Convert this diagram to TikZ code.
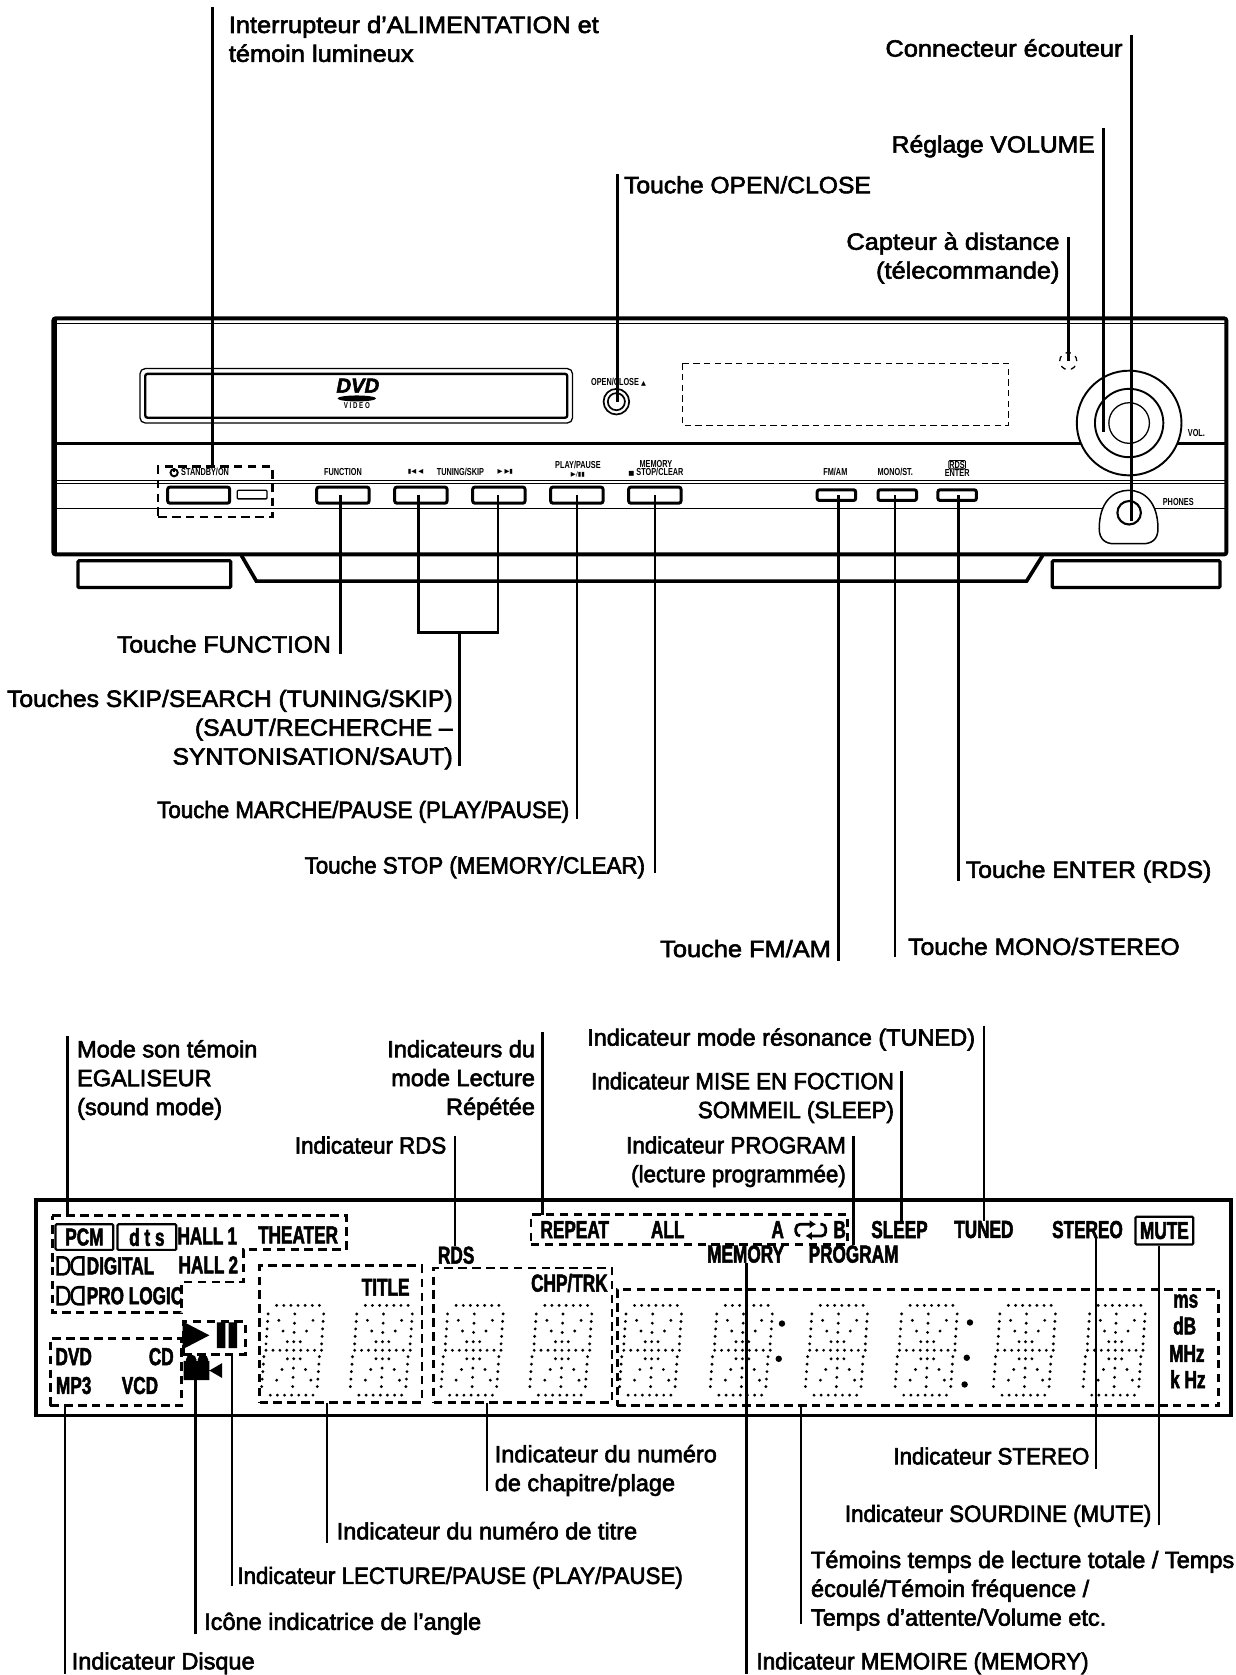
\documentclass[tikz,border=0pt]{standalone}
\usepackage{fontspec}
\usetikzlibrary{arrows.meta,positioning,calc}
\newfontfamily\labelfam[FakeBold=2.6]{Liberation Sans}
\newfontfamily\labelfamW[FakeBold=2.6,FakeStretch=1.08]{Liberation Sans}
\newfontfamily\labelfamM[FakeBold=2.6,FakeStretch=1.05]{Liberation Sans}
\newfontfamily\labelfamN[FakeBold=2.6,FakeStretch=0.95]{Liberation Sans}
\newfontfamily\lcdfam[FakeStretch=0.70,FakeBold=2.0,UprightFont={* Bold}]{Liberation Sans}
\newfontfamily\tagfam[FakeStretch=0.72,UprightFont={* Bold}]{Liberation Sans}
\newfontfamily\symfam{DejaVu Sans}
\newcommand{\lblfont}{\labelfam\fontsize{22}{27}\selectfont}
\newcommand{\lblfontW}{\labelfamW\fontsize{22}{27}\selectfont}
\newcommand{\lblfontM}{\labelfamM\fontsize{22}{27}\selectfont}
\newcommand{\lblfontN}{\labelfamN\fontsize{22}{27}\selectfont}
\newcommand{\lcdfont}{\lcdfam\fontsize{23}{27}\selectfont}
\newcommand{\tagfont}{\tagfam\fontsize{9.5}{7.5}\selectfont}
\tikzset{
  lbll/.style={anchor=west, align=left, font=\lblfont, inner sep=0pt},
  lblr/.style={anchor=east, align=right, font=\lblfont, inner sep=0pt},
  wide/.style={font=\lblfontW},
  mid/.style={font=\lblfontM},
  narrow/.style={font=\lblfontN},
  lcd/.style={anchor=center, font=\lcdfont, inner sep=0pt},
  tag/.style={anchor=center, align=center, font=\tagfont, inner sep=0pt},
  leader/.style={line width=2.4pt, draw=black},
  dashbox/.style={rectangle, draw=black, line width=2.6pt, dash pattern=on 8pt off 5pt, inner sep=0pt, outer sep=0pt},
  btn/.style={rectangle, rounded corners=2pt, draw=black, fill=white, line width=2.8pt, minimum width=49pt, minimum height=15pt, inner sep=0pt, outer sep=0pt},
  btnsm/.style={btn, minimum width=36pt, minimum height=10pt},
  wall/.style={line width=#1, draw=black},
  seg/.pic={
    \foreach \ax/\ay/\bx/\by/\nn in {-16/-42/24/-42/6, -24/-34/-26/-6/4, 28/-34/26/-6/4, -26/0/26/0/8,
        -28/6/-30/34/4, 24/6/22/34/4, -22/42/18/42/6, 1/-34/0/-8/3, 0/8/-1/34/3,
        -14/-28/-6/-8/2, 18/-28/6/-8/2, -6/8/-16/28/2, 6/8/16/28/2}
      \foreach \ii in {0,...,\nn}
        \fill ($(\ax,\ay)!\ii/\nn!(\bx,\by)$) circle (1.5pt);
  },
}
\begin{document}
\begin{tikzpicture}[x=1pt,y=-1pt,node distance=24pt]
  \useasboundingbox (0,0) rectangle (1157,1568);
  \draw[wall=3.6pt,rounded corners=2pt] (50,298) rectangle (1148,519);
  \draw[wall=5pt] (51,298)--(51,519);
  \draw[wall=1pt] (50,303)--(1148,303);
  \draw[wall=2.6pt] (50,415)--(1148,415);
  \draw[wall=1pt] (50,450)--(1148,450) (50,453)--(1148,453);
  \draw[wall=1.6pt] (50,476)--(1148,476);
  \draw[wall=1.2pt,rounded corners=5pt] (131,345) rectangle (536,396);
  \draw[wall=2.2pt,rounded corners=2pt] (136,350) rectangle (531,391);
  \node[font=\labelfam\bfseries\itshape\fontsize{19}{19}\selectfont, inner sep=0pt] (dvd) at (335,361) {DVD};
  \fill (334,373) ellipse (18pt and 2.8pt);
  \node[font=\tagfam\fontsize{8}{8}\selectfont, inner sep=0pt] (video) at (334,380) {V I D E O};
  \node[tag] (openTag) at (579,358) {OPEN/CLOSE {\symfam\fontsize{6}{6}\selectfont ▲}};
  \draw[wall=1.6pt] (577,376) circle (12pt);
  \draw[wall=1.6pt] (577,376) circle (8pt);
  \draw[wall=1.2pt,dash pattern=on 6pt off 4pt] (639,340) rectangle (944,398);
  \draw[wall=1.2pt,dash pattern=on 5pt off 5pt] (1000,338) circle (8pt);
  \draw[wall=1.8pt,fill=white] (1057,396) circle (49pt);
  \draw[wall=1.8pt] (1057,396) circle (32pt);
  \draw[wall=1.2pt] (1057,396) circle (19pt);
  \node[tag] (volTag) at (1120,405) {VOL.};
  \node[tag] (phonesTag) at (1103,470) {PHONES};
  \draw[wall=1.4pt,fill=white] (1029,495) .. controls (1029,470) and (1042,459) .. (1056.5,459) .. controls (1071,459) and (1084,470) .. (1084,495) .. controls (1084,505) and (1078,509) .. (1070,509) -- (1043,509) .. controls (1035,509) and (1029,505) .. (1029,495) -- cycle;
  \draw[wall=2pt] (1057,480) circle (11pt);
  \draw[wall=3pt,rounded corners=1pt] (73,525) rectangle (216,550);
  \draw[wall=3pt,rounded corners=1pt] (985,525) rectangle (1142,550);
  \draw[wall=3.4pt] (226,520) -- (240,544) -- (961,544) -- (976,520);
  \node[dashbox, minimum width=107pt, minimum height=47pt] (standby) at (201.5,460.5) {};
  \node[btn, minimum width=58pt] (power) at (186,463.5) {};
  \draw[wall=1.2pt,rounded corners=1pt] (222,459) rectangle (250,467);
  \node[btn] (fnBtn) at (321,463.5) {};
  \node[btn, right=24pt of fnBtn] (backBtn) {};
  \node[btn, right=24pt of backBtn] (nextBtn) {};
  \node[btn, right=24pt of nextBtn] (playBtn) {};
  \node[btn, right=24pt of playBtn] (stopBtn) {};
  \node[btnsm] (fmBtn) at (783,463.5) {};
  \node[btnsm, right=21pt of fmBtn] (monoBtn) {};
  \node[btnsm, right=20pt of monoBtn] (enterBtn) {};
  \node[tag] (standbyTag) at (192,442) {STANDBY/ON};
  \draw[wall=1.8pt] (163,442.5) circle (3.4pt);
  \draw[wall=1.6pt] (163,438) -- (163,442);
  \node[tag] (fnTag) at (321,442) {FUNCTION};
  \node[tag] (backTag) at (389,442) {{\symfam\fontsize{6}{6}\selectfont ▮◀ ◀}};
  \node[tag] (tuneTag) at (431,442) {TUNING/SKIP};
  \node[tag] (nextTag) at (473,442) {{\symfam\fontsize{6}{6}\selectfont ▶ ▶▮}};
  \node[tag] (playTag) at (541,439) {PLAY/PAUSE\\{\symfam\fontsize{6}{6}\selectfont ▶/▮▮}};
  \node[tag] (stopTag) at (614,438) {MEMORY\\{\symfam\fontsize{6}{6}\selectfont ■} STOP/CLEAR};
  \node[tag] (fmTag) at (782,442) {FM/AM};
  \node[tag] (monoTag) at (838,442) {MONO/ST.};
  \node[tag, draw, line width=.8pt, rounded corners=1pt, inner sep=.6pt] (rdsTag) at (896,435) {RDS};
  \node[tag] (enterTag) at (896,443) {ENTER};

  \node[lbll, wide] (powerLbl) at (214,36.5) {Interrupteur d’ALIMENTATION et\\témoin lumineux};
  \node[lblr, wide] (phonesLbl) at (1051,45) {Connecteur écouteur};
  \node[lblr, mid] (volLbl) at (1025,137) {Réglage VOLUME};
  \node[lblr, wide] (sensorLbl) at (992,241.5) {Capteur à distance\\(télecommande)};
  \node[lbll, mid] (openLbl) at (584,173) {Touche OPEN/CLOSE};
  \coordinate (powerEnd) at (199,7);
  \coordinate (phonesEnd) at (1059,33);
  \coordinate (volEnd) at (1033,120);
  \coordinate (sensorEnd) at (1000,222);
  \coordinate (openEnd) at (578,163);
  \draw[leader] (powerEnd) -- (powerEnd |- standby.north);
  \draw[leader] (phonesEnd) -- (1059,488);
  \draw[leader] (volEnd) -- (1033,404);
  \draw[leader] (sensorEnd) -- (1000,338);
  \draw[leader] (openEnd) -- (578,376);

  \node[lblr, mid] (fnLbl) at (310,603) {Touche FUNCTION};
  \node[lblr, mid] (skipLbl) at (424,683) {Touches SKIP/SEARCH (TUNING/SKIP)\\(SAUT/RECHERCHE –\\SYNTONISATION/SAUT)};
  \node[lblr, narrow] (playLbl) at (533,760) {Touche MARCHE/PAUSE (PLAY/PAUSE)};
  \node[lblr, narrow] (stopLbl) at (604,812) {Touche STOP (MEMORY/CLEAR)};
  \node[lblr, wide] (fmLbl) at (778,888) {Touche FM/AM};
  \node[lbll, mid] (monoLbl) at (850,886) {Touche MONO/STEREO};
  \node[lbll, mid] (enterLbl) at (904,816) {Touche ENTER (RDS)};
  \coordinate (fnEnd) at (319,612);
  \coordinate (skipJoin) at (430,592);
  \coordinate (skipEnd) at (430,717);
  \coordinate (playEnd) at (540,767);
  \coordinate (stopEnd) at (613,817);
  \coordinate (fmEnd) at (785,900);
  \coordinate (monoEnd) at (838,896);
  \coordinate (enterEnd) at (897,825);
  \draw[leader] (fnBtn.center -| fnEnd) -- (fnEnd);
  \draw[leader] (392,463) -- (392,592) -- (466,592) -- (466,463);
  \draw[leader] (skipJoin) -- (skipEnd);
  \draw[leader] (playBtn.center -| playEnd) -- (playEnd);
  \draw[leader] (stopBtn.center -| stopEnd) -- (stopEnd);
  \draw[leader] (fmBtn.center -| fmEnd) -- (fmEnd);
  \draw[leader] (monoBtn.center -| monoEnd) -- (monoEnd);
  \draw[leader] (enterBtn.center -| enterEnd) -- (enterEnd);

  \draw[wall=3.6pt] (34,1123) rectangle (1152,1325);
  \draw[wall=2.6pt,dash pattern=on 8pt off 5pt] (49,1138) -- (324,1138) -- (324,1170) -- (228,1170) -- (228,1200) -- (170,1200) -- (170,1229) -- (49,1229) -- cycle;
  \node[dashbox, minimum width=123pt, minimum height=63pt] (discBox) at (108.5,1284.5) {};
  \node[dashbox, minimum width=58pt, minimum height=31pt] (playBox) at (200.5,1252.5) {};
  \node[dashbox, minimum width=152pt, minimum height=128pt] (titleBox) at (319,1249) {};
  \node[dashbox, minimum width=167pt, minimum height=126pt] (chpBox) at (489.5,1250) {};
  \node[dashbox, minimum width=563pt, minimum height=109pt] (mainBox) at (859.5,1261.5) {};
  \node[dashbox, minimum width=296pt, minimum height=28pt] (repeatBox) at (645,1151) {};
  \node[lcd, draw, line width=2pt, minimum width=54pt, minimum height=24pt, rounded corners=1pt] (pcm) at (79,1158) {PCM};
  \node[lcd, draw, line width=2pt, minimum width=55pt, minimum height=24pt, rounded corners=1pt] (dts) at (137.5,1158) {d t s};
  \node[lcd] (hallA) at (194,1157) {HALL\,1};
  \node[lcd] (theater) at (279,1156) {THEATER};
  \node[lcd] (hallB) at (195,1184) {HALL\,2};
  \node[lcd, anchor=west] (digital) at (81,1185) {DIGITAL};
  \node[lcd, anchor=west] (prologic) at (81,1213) {PRO LOGIC};
  \foreach \yy in {1185,1213} {
    \draw[wall=2.4pt] (54,\yy-8) -- (59,\yy-8) .. controls (67,\yy-8) and (67,\yy+8) .. (59,\yy+8) -- (54,\yy+8) -- cycle;
    \draw[wall=2.4pt] (78,\yy-8) -- (73,\yy-8) .. controls (65,\yy-8) and (65,\yy+8) .. (73,\yy+8) -- (78,\yy+8) -- cycle;
  }
  \node[lcd] (dvdInd) at (69,1270) {DVD};
  \node[lcd] (cdInd) at (151,1270) {CD};
  \node[lcd] (mpInd) at (69,1297) {MP3};
  \node[lcd] (vcdInd) at (131,1297) {VCD};
  \node[lcd] (titleInd) at (361,1205) {TITLE};
  \node[lcd] (rdsInd) at (427,1175) {RDS};
  \node[lcd] (chpInd) at (533,1201) {CHP/TRK};
  \node[lcd] (repeatInd) at (538,1151) {REPEAT};
  \node[lcd] (allInd) at (625,1151) {ALL};
  \node[lcd] (aInd) at (728,1151) {A};
  \node[lcd] (bInd) at (786,1151) {B};
  \draw[line width=2.6pt, rounded corners=4pt, -{Latex[length=6pt,width=8pt]}] (749,1157) -- (745,1157) -- (745,1146) -- (764,1146);
  \draw[line width=2.6pt, rounded corners=4pt, -{Latex[length=6pt,width=8pt]}] (768,1146) -- (773,1146) -- (773,1157) -- (754,1157);
  \node[lcd] (memInd) at (698,1174) {MEMORY};
  \node[lcd] (progInd) at (799,1174) {PROGRAM};
  \node[lcd] (sleepInd) at (842,1151) {SLEEP};
  \node[lcd] (tunedInd) at (921,1151) {TUNED};
  \node[lcd] (stereoInd) at (1018,1151) {STEREO};
  \node[lcd, draw, line width=2pt, minimum width=54pt, minimum height=26pt, rounded corners=1pt] (muteInd) at (1090,1152) {MUTE};
  \node[lcd] (msInd) at (1110,1218) {ms};
  \node[lcd] (dbInd) at (1109,1241) {dB};
  \node[lcd] (mhzInd) at (1111,1267) {MHz};
  \node[lcd] (khzInd) at (1112,1291) {k Hz};
  \fill (171,1237) -- (196,1250) -- (171,1263) -- cycle;
  \fill (203,1238) rectangle (211,1262) (214,1238) rectangle (222,1262);
  \fill (172,1274) rectangle (196,1292) (196,1283) -- (208,1276) -- (208,1290) -- cycle;
  \fill (179,1273) circle (5pt) (190,1273) circle (5pt);
  \foreach \cx in {275,358,443,526,610,695,784,868,960,1044}
    \pic at (\cx,1264) {seg};
  \foreach \cx/\cy in {732/1239,729/1272,908/1238,905/1271,903/1296}
    \fill (\cx,\cy) circle (3pt);

  \node[lbll] (modeLbl) at (72,1011) {Mode son témoin\\EGALISEUR\\(sound mode)};
  \node[lblr] (repeatLbl) at (501,1011) {Indicateurs du\\mode Lecture\\Répétée};
  \node[lblr, narrow] (rdsLbl) at (418,1072) {Indicateur RDS};
  \node[lblr] (tunedLbl) at (913,973) {Indicateur mode résonance (TUNED)};
  \node[lblr, narrow] (sleepLbl) at (837,1027.5) {Indicateur MISE EN FOCTION\\SOMMEIL (SLEEP)};
  \node[lblr, narrow] (progLbl) at (792,1087.5) {Indicateur PROGRAM\\(lecture programmée)};
  \node[lblr, narrow] (stereoLbl) at (1020,1363) {Indicateur STEREO};
  \node[lblr, narrow] (muteLbl) at (1078,1419) {Indicateur SOURDINE (MUTE)};
  \node[lbll] (timeLbl) at (759,1489) {Témoins temps de lecture totale / Temps\\écoulé/Témoin fréquence /\\Temps d’attente/Volume etc.};
  \node[lbll] (chpLbl) at (463,1376.5) {Indicateur du numéro\\de chapitre/plage};
  \node[lbll] (titleLbl) at (315,1433) {Indicateur du numéro de titre};
  \node[lbll, narrow] (playIndLbl) at (222,1477) {Indicateur LECTURE/PAUSE (PLAY/PAUSE)};
  \node[lbll] (angleLbl) at (191,1520) {Icône indicatrice de l’angle};
  \node[lbll] (discLbl) at (67,1557) {Indicateur Disque};
  \node[lbll, narrow] (memLbl) at (708,1557) {Indicateur MEMOIRE (MEMORY)};
  \coordinate (modeEnd) at (63,970);
  \coordinate (repeatEnd) at (508,966);
  \coordinate (rdsEnd) at (426,1063);
  \coordinate (tunedEnd) at (921,960);
  \coordinate (sleepEnd) at (844,1003);
  \coordinate (progEnd) at (799,1063);
  \coordinate (stereoEnd) at (1026,1375);
  \coordinate (muteEnd) at (1085,1428);
  \coordinate (timeEnd) at (750,1520);
  \coordinate (chpEnd) at (456,1396);
  \coordinate (titleEnd) at (306,1444);
  \coordinate (playEndB) at (217,1485);
  \coordinate (angleEnd) at (183,1530);
  \coordinate (discEnd) at (61,1567);
  \coordinate (memEnd) at (699,1567);
  \draw[leader] (modeEnd) -- (63,1139);
  \draw[leader] (repeatEnd) -- (repeatEnd |- repeatBox.north);
  \draw[leader] (rdsEnd) -- (rdsEnd |- rdsInd.north);
  \draw[leader] (tunedEnd) -- (tunedEnd |- tunedInd.north);
  \draw[leader] (sleepEnd) -- (sleepEnd |- sleepInd.north);
  \draw[leader] (progEnd) -- (progEnd |- progInd.north);
  \draw[leader] (stereoEnd) -- (stereoEnd |- stereoInd.south);
  \draw[leader] (muteEnd) -- (muteEnd |- muteInd.south);
  \draw[leader] (timeEnd) -- (timeEnd |- mainBox.south);
  \draw[leader] (chpEnd) -- (chpEnd |- chpBox.south);
  \draw[leader] (titleEnd) -- (titleEnd |- titleBox.south);
  \draw[leader] (playEndB) -- (playEndB |- playBox.south);
  \draw[leader] (angleEnd) -- (183,1288);
  \draw[leader] (discEnd) -- (discEnd |- discBox.south);
  \draw[leader] (memEnd) -- (memEnd |- memInd.south);
\end{tikzpicture}
\end{document}
